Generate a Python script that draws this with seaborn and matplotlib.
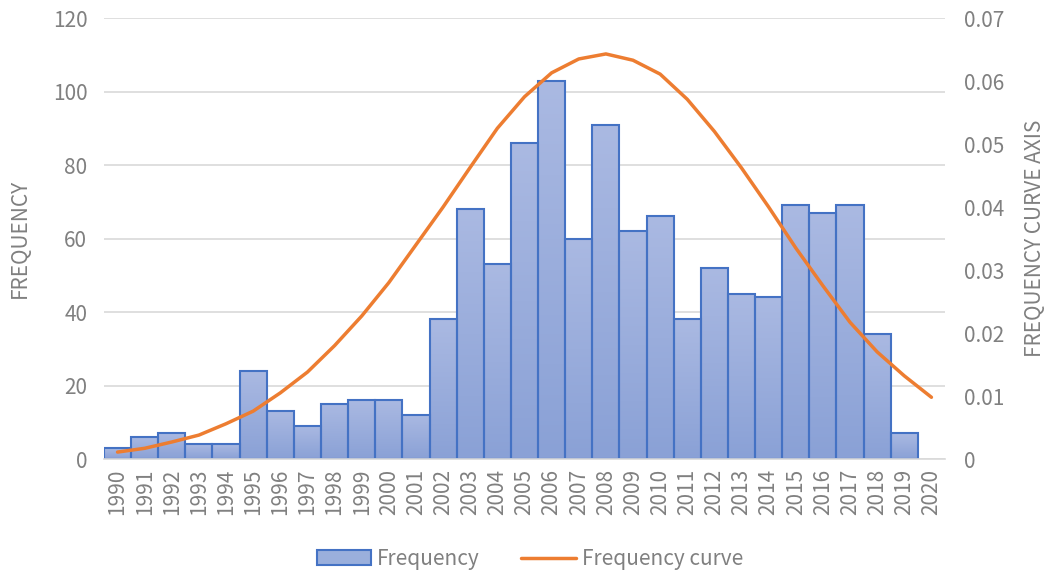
import numpy as np
import pandas as pd
import seaborn as sns
import matplotlib.pyplot as plt
from matplotlib.colors import LinearSegmentedColormap
from matplotlib.patches import Patch
from matplotlib.lines import Line2D

years = [str(y) for y in range(1990, 2021)]
frequency = [3, 6, 7, 4, 4, 24, 13, 9, 15, 16, 16, 12, 38, 68, 53, 86, 103, 60,
             91, 62, 66, 38, 52, 45, 44, 69, 67, 69, 34, 7, np.nan]
curve = [0.0011, 0.0017, 0.0027, 0.0038, 0.0056, 0.0076, 0.0105, 0.0138, 0.0180,
         0.0227, 0.0280, 0.0340, 0.0400, 0.0463, 0.0525, 0.0575, 0.0613, 0.0635,
         0.0643, 0.0633, 0.0611, 0.0571, 0.0520, 0.0462, 0.0400, 0.0335, 0.0275,
         0.0217, 0.0170, 0.0132, 0.0098]

df = pd.DataFrame({"year": years, "frequency": frequency, "curve": curve})

sns.set_style("white")
plt.rcParams['font.family'] = ['Noto Sans CJK SC', 'DejaVu Sans']
plt.rcParams['font.weight'] = 'light'
gray = "#808080"
bar_edge = "#4472c4"
orange = "#ed7d31"
fs = 15

fig = plt.figure(figsize=(10.45, 5.76), dpi=100)
ax = fig.add_axes([0.0995, 0.2031, 0.8048, 0.7656])

sns.barplot(data=df, x="year", y="frequency", ax=ax, width=1.0,
            color="#9aafdc", edgecolor=bar_edge, linewidth=1.5, zorder=2)

# vertical gradient fill inside each bar
grad = LinearSegmentedColormap.from_list("g", ["#8aa1d6", "#aab9e2"])
gimg = np.linspace(0, 1, 100).reshape(-1, 1)
for p in ax.patches:
    h = p.get_height()
    if not np.isfinite(h) or h <= 0:
        continue
    x0 = p.get_x()
    im = ax.imshow(gimg, cmap=grad, origin="lower", aspect="auto",
                   extent=[x0, x0 + p.get_width(), 0, h], zorder=2.1)
    im.set_clip_path(p)
    p.set_facecolor("none")
    p.set_zorder(2.2)

ax.set_xlim(-0.5, 30.5)
ax.set_ylim(0, 120)
ax.set_yticks(range(0, 121, 20))
ax.yaxis.grid(True, color="#d9d9d9", linewidth=1.2, zorder=0)
ax.set_axisbelow(True)
for s in ["top", "right", "left"]:
    ax.spines[s].set_visible(False)
ax.spines["bottom"].set_color("#d9d9d9")
ax.spines["bottom"].set_linewidth(1.2)
ax.tick_params(axis="x", labelrotation=90, labelsize=fs, colors=gray, length=0, pad=7)
ax.tick_params(axis="y", labelsize=fs, colors=gray, length=0, pad=12)
ax.set_xlabel("")
ax.set_ylabel("FREQUENCY", fontsize=fs, color=gray, labelpad=16)

ax2 = ax.twinx()
sns.lineplot(x=np.arange(len(years)), y=df["curve"], ax=ax2, color=orange,
             linewidth=2.5, zorder=3)
ax2.set_ylim(0, 0.07)
ax2.set_yticks([0, 0.01, 0.02, 0.03, 0.04, 0.05, 0.06, 0.07])
ax2.set_yticklabels(["0", "0.01", "0.02", "0.03", "0.04", "0.05", "0.06", "0.07"])
ax2.tick_params(axis="y", labelsize=fs, colors=gray, length=0, pad=14)
ax2.set_ylabel("FREQUENCY CURVE AXIS", fontsize=fs, color=gray, rotation=90, labelpad=14)
for s in ax2.spines.values():
    s.set_visible(False)

handles = [Patch(facecolor="#9aafdc", edgecolor=bar_edge, linewidth=1.5),
           Line2D([0], [0], color=orange, linewidth=2.5)]
leg = fig.legend(handles, ["Frequency", "Frequency curve"], loc="lower center",
                 bbox_to_anchor=(0.507, -0.022), ncol=2, frameon=False, fontsize=fs,
                 handlelength=2.6, handletextpad=0.3, columnspacing=2.0)
for t in leg.get_texts():
    t.set_color(gray)

fig.savefig("out.png", dpi=100)
